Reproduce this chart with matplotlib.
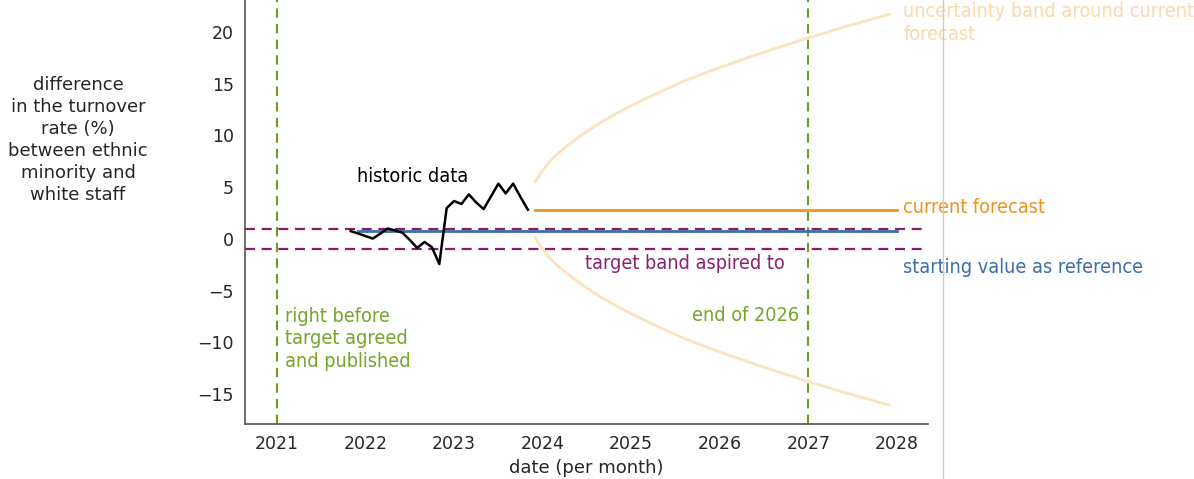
import numpy as np
import pandas as pd
import matplotlib
matplotlib.use("Agg")
import matplotlib.pyplot as plt
from matplotlib.lines import Line2D

# --- data -------------------------------------------------------------
hist_start = "2021-11"          # first monthly observation
hist_values = [0.75, 0.52, 0.27, 0.03, 0.50, 1.00, 0.82, 0.60, -0.10, -0.87,
               -0.30, -0.80, -2.43, 2.98, 3.66, 3.37, 4.30, 3.52, 2.88, 4.10,
               5.34, 4.40, 5.34, 4.05, 2.82]
reference_start = "2021-12"
forecast_start = "2023-12"
horizon_end = "2028-01"
target_band = [-1.0, 1.0]
milestones = [2021.0, 2027.0]
# months ahead of forecast start and half-width of the uncertainty band
band_months = [0, 1, 2, 3, 4, 6, 9, 12, 16, 20, 24, 30, 36, 42, 48]
band_halfwidth = [2.7, 3.8, 4.7, 5.4, 6.0, 7.1, 8.5, 9.7, 11.1, 12.4, 13.5, 15.0, 16.4, 17.7, 18.9]
year_ticks = [2021, 2022, 2023, 2024, 2025, 2026, 2027, 2028]
y_ticks = [-15, -10, -5, 0, 5, 10, 15, 20]


def dec_year(p):
    p = pd.Period(p, freq="M")
    return p.year + (p.month - 1) / 12


def month_range(start, end):
    pr = pd.period_range(start, end, freq="M")
    return np.array([p.year + (p.month - 1) / 12 for p in pr])


hist_x = month_range(hist_start, pd.Period(hist_start, "M") + len(hist_values) - 1)
hist_y = np.array(hist_values)
start_value = hist_y[0]
current = hist_y[-1]

ref_x = [dec_year(reference_start), dec_year(horizon_end)]
fc_x = [dec_year(forecast_start), dec_year(horizon_end)]
band_x = dec_year(forecast_start) + np.array(band_months) / 12
band_hw = np.array(band_halfwidth)

# --- colours ----------------------------------------------------------
GREEN = "#6c9e1c"
GREEN_T = "#74a62a"
PURPLE = "#8a1b6c"
PURPLE_T = "#8c2172"
ORANGE = "#ef931c"
BAND = "#fde2be"
BAND_T = "#fcd9ab"
BLUE = "#3c6eaa"
TEXT = "#262626"

label_font = dict(family="DejaVu Sans", fontstretch="condensed", fontsize=14.2)

fig = plt.figure(figsize=(11.94, 4.79), dpi=100)
ax = fig.add_axes([245 / 1194, 1 - 424 / 479, (928 - 245) / 1194, 424 / 479])

for m in milestones:
    ax.axvline(m, color=GREEN, lw=1.5, ls=(0, (4.5, 3)), zorder=1)
for t in target_band:
    ax.axhline(t, color=PURPLE, lw=1.6, ls=(0, (4.5, 3)), zorder=2)

ax.plot(band_x, current + band_hw, color=BAND, lw=2, zorder=1)
ax.plot(band_x, current - band_hw, color=BAND, lw=2, zorder=1)
ax.plot(ref_x, [start_value, start_value], color=BLUE, lw=2, zorder=3)
ax.plot(fc_x, [current, current], color=ORANGE, lw=2, zorder=3)
ax.plot(hist_x, hist_y, color="black", lw=1.8, zorder=4)

ax.set_xlim(2020.64, 2028.35)
ax.set_ylim(-17.9, 23.1)
ax.set_xticks(year_ticks)
ax.set_yticks(y_ticks)
ax.set_yticklabels([f"{v}" if v >= 0 else f"\u2212{-v}" for v in y_ticks])
ax.tick_params(length=0, labelsize=12.5, colors=TEXT, pad=8)
for lab in ax.get_xticklabels() + ax.get_yticklabels():
    lab.set_family("DejaVu Sans")
for s in ("top", "right"):
    ax.spines[s].set_visible(False)
for s in ("left", "bottom"):
    ax.spines[s].set_color("#555555")
    ax.spines[s].set_linewidth(1.2)

ax.set_xlabel("date (per month)", fontsize=13, family="DejaVu Sans",
              color=TEXT, labelpad=4)
fig.text(78 / 1194, 1 - 140 / 479,
         "difference\nin the turnover\nrate (%)\nbetween ethnic\nminority and\nwhite staff",
         ha="center", va="center", fontsize=13, family="DejaVu Sans",
         color=TEXT, linespacing=1.3)

ax.text(2021.90, 6.0, "historic data", color="black", ha="left", va="center", **label_font)
ax.text(2028.07, current + 0.2, "current forecast", color=ORANGE, ha="left", va="center", **label_font)
ax.text(2028.07, -2.8, "starting value as reference", color=BLUE, ha="left", va="center", **label_font)
ax.text(2028.07, 22.9, "uncertainty band around current\nforecast", color=BAND_T,
        ha="left", va="top", linespacing=1.25, **label_font)
ax.text(2024.48, -2.35, "target band aspired to", color=PURPLE_T, ha="left", va="center", **label_font)
ax.text(2026.90, -7.45, "end of 2026", color=GREEN_T, ha="right", va="center", **label_font)
ax.text(2021.09, -6.55, "right before\ntarget agreed\nand published", color=GREEN_T,
        ha="left", va="top", linespacing=1.25, **label_font)

fig.add_artist(Line2D([943 / 1194, 943 / 1194], [0, 1], transform=fig.transFigure,
                      color="#cccccc", lw=1, zorder=10))

fig.savefig("out.png", dpi=100)
